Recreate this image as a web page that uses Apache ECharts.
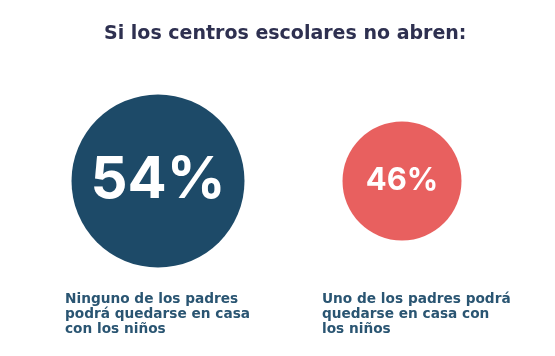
<!DOCTYPE html>
<html><head><meta charset="utf-8">
<script src="https://cdn.jsdelivr.net/npm/echarts@6/dist/echarts.min.js"></script>
<style>html,body{margin:0;padding:0;background:#fff}#c{width:555px;height:356px}</style>
</head><body><div id="c"></div>
<script>
const titleText = 'Si los centros escolares no abren:';
const categories = ['Ninguno de los padres\npodrá quedarse en casa\ncon los niños', 'Uno de los padres podrá\nquedarse en casa con\nlos niños'];
const values = [54, 46];

const colors = ['#1d4a68', '#e8605f'];
const sizes = [173, 119];
const fontSizes = [58, 31];

const chart = echarts.init(document.getElementById('c'));
chart.setOption({
  backgroundColor: '#ffffff',
  animation: false,
  title: [
    { text: titleText, left: 104, top: 25, padding: 0,
      textStyle: { fontFamily: 'DejaVu Sans', fontWeight: 'bold', fontSize: 19, color: '#2e3050' } },
    { text: categories[0], left: 65, top: 292, padding: 0,
      textStyle: { fontFamily: 'DejaVu Sans', fontWeight: 'bold', fontSize: 13.7, lineHeight: 15, color: '#2a5572' } },
    { text: categories[1], left: 322, top: 292, padding: 0,
      textStyle: { fontFamily: 'DejaVu Sans', fontWeight: 'bold', fontSize: 13.7, lineHeight: 15, color: '#2a5572' } }
  ],
  grid: { left: 36, right: 31, top: 131, bottom: 125 },
  xAxis: { type: 'category', data: categories, show: false },
  yAxis: { type: 'category', data: ['a'], show: false },
  series: [{
    type: 'scatter',
    data: values.map((v, i) => ({
      value: [i, 0, v],
      symbolSize: sizes[i],
      itemStyle: { color: colors[i], opacity: 1 },
      label: { fontSize: fontSizes[i] }
    })),
    label: {
      show: true, position: 'inside',
      formatter: p => p.value[2] + '%',
      color: '#fff', fontFamily: 'Inter', fontWeight: 'bold'
    }
  }]
});
</script></body></html>
